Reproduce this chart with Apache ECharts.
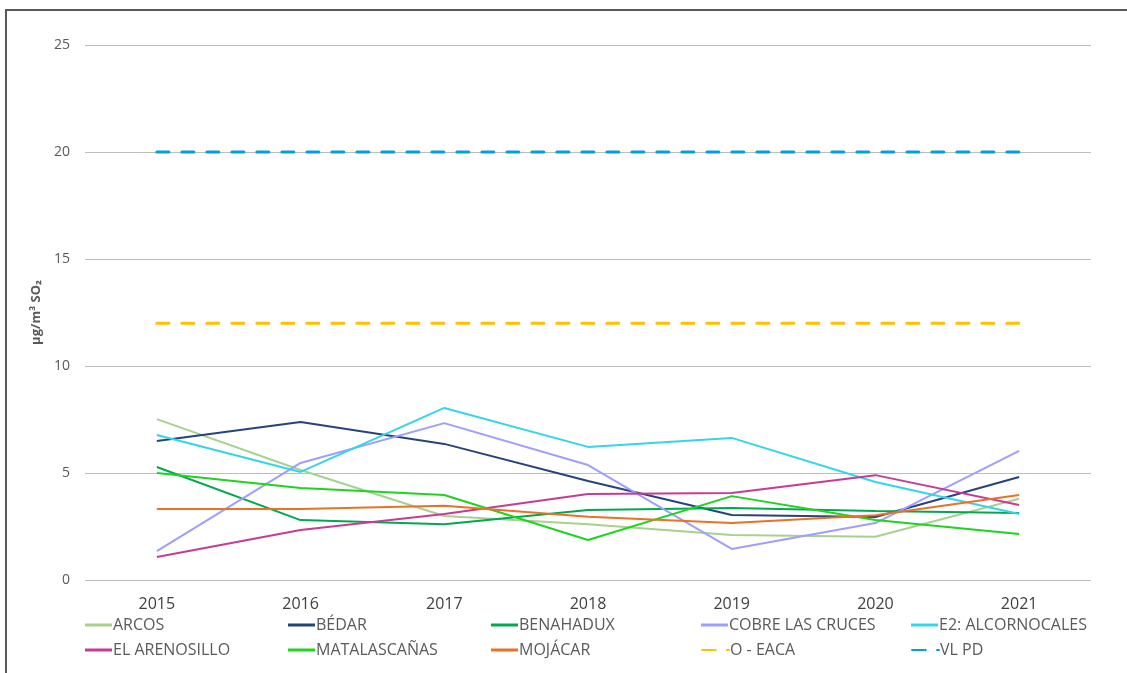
<!DOCTYPE html>
<html>
<head>
<meta charset="utf-8">
<script src="https://cdn.jsdelivr.net/npm/echarts@6/dist/echarts.min.js"></script>
<style>
  html, body { margin: 0; padding: 0; background: #fff; }
  #frame { position: absolute; left: 5px; top: 9px; width: 1200px; height: 700px;
    border-left: 2px solid #595959; border-top: 2px solid #595959; }
  #chart { position: absolute; left: 0; top: 0; width: 1127px; height: 673px; }
</style>
</head>
<body>
<div id="frame"></div>
<div id="chart"></div>
<script>
const years = ["2015", "2016", "2017", "2018", "2019", "2020", "2021"];

const arcos = [7.52, 5.14, 2.99, 2.6, 2.1, 2.02, 3.8];
const bedar = [6.5, 7.38, 6.36, 4.63, 3.04, 2.94, 4.81];
const benahadux = [5.28, 2.8, 2.6, 3.27, 3.36, 3.22, 3.13];
const cobre = [1.35, 5.47, 7.33, 5.37, 1.45, 2.66, 6.03];
const alcornocales = [6.78, 5.05, 8.04, 6.22, 6.64, 4.58, 3.08];
const arenosillo = [1.07, 2.34, 3.08, 4.02, 4.07, 4.9, 3.5];
const matalascanas = [5.0, 4.3, 3.97, 1.87, 3.92, 2.8, 2.15];
const mojacar = [3.32, 3.32, 3.47, 2.95, 2.66, 3.03, 3.97];
const oEaca = [12, 12, 12, 12, 12, 12, 12];
const vlPd = [20, 20, 20, 20, 20, 20, 20];

const seriesDefs = [
  { name: "ARCOS", data: arcos, color: "#A9D18E" },
  { name: "BÉDAR", data: bedar, color: "#264478" },
  { name: "BENAHADUX", data: benahadux, color: "#00A84F" },
  { name: "COBRE LAS CRUCES", data: cobre, color: "#9E9EFF" },
  { name: "E2: ALCORNOCALES", data: alcornocales, color: "#33D6E8" },
  { name: "EL ARENOSILLO", data: arenosillo, color: "#C73B96" },
  { name: "MATALASCAÑAS", data: matalascanas, color: "#1ED41E" },
  { name: "MOJÁCAR", data: mojacar, color: "#EB7125" },
  { name: "O - EACA", data: oEaca, color: "#FFC000", dashed: true },
  { name: "VL PD", data: vlPd, color: "#00A0DC", dashed: true }
];

const legendCols = [80, 283, 486, 696, 906];
const legendRows = [612, 637];

const chart = echarts.init(document.getElementById("chart"));

chart.setOption({
  animation: false,
  textStyle: { fontFamily: "Open Sans, sans-serif" },
  grid: { left: 85, right: 36, top: 45, bottom: 93 },
  xAxis: {
    type: "category",
    data: years,
    boundaryGap: true,
    axisLine: { show: false },
    axisTick: { show: false },
    axisLabel: { color: "#404040", fontSize: 16, margin: 16, fontFamily: "Open Sans" }
  },
  yAxis: {
    type: "value",
    min: 0,
    max: 25,
    interval: 5,
    name: "µg/m³ SO₂",
    nameLocation: "middle",
    nameGap: 40,
    nameRotate: 90,
    nameTextStyle: { color: "#595959", fontSize: 13, fontWeight: "bold", fontFamily: "Open Sans" },
    axisLine: { show: false },
    axisTick: { show: false },
    axisLabel: { color: "#595959", fontSize: 14, margin: 15, fontFamily: "Open Sans" },
    splitLine: { lineStyle: { color: "#BDBDBD", width: 1 } }
  },
  legend: seriesDefs.map((s, i) => ({
    data: [s.name],
    left: legendCols[i % 5],
    top: legendRows[Math.floor(i / 5)],
    itemWidth: 27,
    itemHeight: 3,
    itemGap: 0,
    icon: s.dashed ? undefined : "rect",
    textStyle: { color: "#595959", fontSize: 16, padding: [0, 0, 0, -4], fontFamily: "Liberation Sans Narrow, Open Sans" }
  })),
  series: seriesDefs.map((s) => ({
    name: s.name,
    type: "line",
    data: s.data,
    showSymbol: false,
    symbol: "none",
    color: s.color,
    lineStyle: s.dashed
      ? { color: s.color, width: 3, type: [12, 13], cap: "round" }
      : { color: s.color, width: 2 }
  }))
});
</script>
</body>
</html>
